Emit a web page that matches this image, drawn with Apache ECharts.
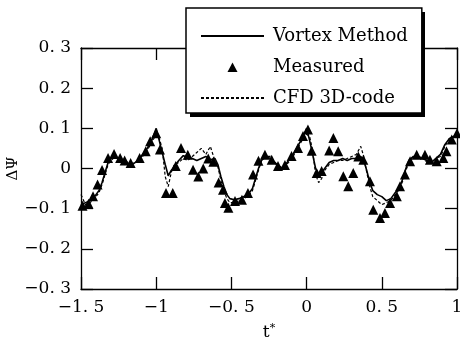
<!DOCTYPE html>
<html>
<head>
<meta charset="utf-8">
<script src="https://cdn.jsdelivr.net/npm/echarts@6/dist/echarts.min.js"></script>
<style>
  html, body { margin: 0; padding: 0; background: #fff; }
  #container { width: 460px; height: 348px; }
</style>
</head>
<body>
<div id="container"></div>
<script>
// time axis shared by the two computed curves
var tLine = [-1.5, -1.47, -1.44, -1.41, -1.38, -1.36, -1.34, -1.32, -1.30, -1.27,
    -1.24, -1.21, -1.18, -1.15, -1.12, -1.09, -1.06, -1.03, -1.00, -0.98,
    -0.96, -0.94, -0.92, -0.90, -0.88, -0.85, -0.82, -0.79, -0.76, -0.73,
    -0.70, -0.67, -0.64, -0.61, -0.59, -0.57, -0.55, -0.53, -0.51, -0.48,
    -0.45, -0.42, -0.39, -0.36, -0.34, -0.32, -0.30, -0.27, -0.24, -0.21,
    -0.18, -0.15, -0.12, -0.09, -0.06, -0.03, 0.0, 0.02, 0.04, 0.06,
    0.08, 0.10, 0.12, 0.15, 0.18, 0.21, 0.24, 0.27, 0.30, 0.33,
    0.36, 0.38, 0.40, 0.42, 0.44, 0.47, 0.50, 0.53, 0.56, 0.59,
    0.62, 0.64, 0.66, 0.68, 0.71, 0.74, 0.77, 0.80, 0.83, 0.86,
    0.89, 0.92, 0.95, 0.98, 1.0];

// Vortex Method (solid)
var vortexVal = [-0.09, -0.085, -0.08, -0.07, -0.055, -0.035, -0.01, 0.015, 0.025, 0.03,
    0.02, 0.022, 0.01, 0.012, 0.02, 0.035, 0.05, 0.07, 0.1, 0.07,
    0.04, 0.01, -0.018, -0.005, 0.005, 0.02, 0.032, 0.028, 0.025, 0.02,
    0.025, 0.03, 0.022, 0.025, 0.01, -0.02, -0.045, -0.065, -0.075, -0.078,
    -0.075, -0.07, -0.065, -0.05, -0.025, 0.0, 0.02, 0.03, 0.025, 0.015,
    0.0, 0.005, 0.02, 0.035, 0.055, 0.075, 0.1, 0.07, 0.035, 0.0,
    -0.015, -0.01, 0.0, 0.015, 0.02, 0.02, 0.025, 0.02, 0.025, 0.025,
    0.03, 0.02, -0.005, -0.035, -0.055, -0.065, -0.07, -0.08, -0.075, -0.06,
    -0.045, -0.025, 0.0, 0.02, 0.03, 0.03, 0.025, 0.02, 0.015, 0.025,
    0.035, 0.06, 0.075, 0.08, 0.09];

// CFD 3D-code (dashed)
var cfdVal = [-0.065, -0.09, -0.085, -0.075, -0.06, -0.04, -0.015, 0.01, 0.02, 0.03,
    0.02, 0.01, 0.005, 0.015, 0.015, 0.03, 0.045, 0.065, 0.085, 0.075,
    0.05, -0.02, -0.045, -0.01, 0.01, 0.015, 0.025, 0.02, 0.03, 0.04,
    0.05, 0.035, 0.055, 0.02, 0.005, -0.03, -0.055, -0.075, -0.085, -0.085,
    -0.08, -0.075, -0.07, -0.055, -0.03, -0.005, 0.02, 0.03, 0.03, 0.015,
    0.005, 0.005, 0.015, 0.03, 0.05, 0.07, 0.085, 0.08, 0.045, -0.015,
    -0.035, -0.025, -0.005, 0.01, 0.015, 0.02, 0.02, 0.025, 0.03, 0.035,
    0.055, 0.03, -0.01, -0.045, -0.07, -0.08, -0.09, -0.085, -0.08, -0.065,
    -0.05, -0.03, -0.005, 0.015, 0.03, 0.025, 0.03, 0.015, 0.015, 0.025,
    0.03, 0.055, 0.075, 0.08, 0.085];

// Measured (triangles)
var measuredT = [-1.49, -1.45, -1.42, -1.39, -1.36, -1.32, -1.28, -1.24, -1.21, -1.17,
    -1.11, -1.07, -1.04, -1.0, -0.975, -0.935, -0.89, -0.87, -0.835, -0.79,
    -0.755, -0.72, -0.687, -0.654, -0.62, -0.585, -0.556, -0.543, -0.52, -0.476,
    -0.43, -0.39, -0.356, -0.32, -0.277, -0.232, -0.19, -0.144, -0.1, -0.057,
    -0.024, 0.009, 0.034, 0.067, 0.1, 0.15, 0.178, 0.21, 0.244, 0.277,
    0.31, 0.344, 0.377, 0.421, 0.443, 0.488, 0.521, 0.555, 0.6, 0.621,
    0.654, 0.688, 0.732, 0.787, 0.82, 0.865, 0.909, 0.93, 0.965, 1.0];
var measuredVal = [-0.093, -0.088, -0.069, -0.04, -0.004, 0.026, 0.036, 0.026, 0.02, 0.014,
    0.026, 0.043, 0.068, 0.088, 0.047, -0.061, -0.061, 0.006, 0.051, 0.034,
    -0.003, -0.02, 0.0, 0.025, 0.017, -0.035, -0.053, -0.086, -0.098, -0.081,
    -0.078, -0.061, -0.015, 0.019, 0.034, 0.022, 0.006, 0.009, 0.031, 0.051,
    0.081, 0.097, 0.044, -0.011, -0.006, 0.045, 0.076, 0.043, -0.019, -0.044,
    -0.011, 0.03, 0.022, -0.032, -0.103, -0.123, -0.111, -0.086, -0.069, -0.044,
    -0.015, 0.018, 0.034, 0.034, 0.022, 0.018, 0.026, 0.043, 0.072, 0.088];

var xTicks = [-1.5, 1, 0.5];   // min, max, interval
var yTicks = [-0.3, 0.3, 0.1];

var seriesNames = ['Vortex Method', 'Measured', 'CFD 3D-code'];

function zip(a, b) {
    var out = [];
    for (var i = 0; i < a.length; i++) out.push([a[i], b[i]]);
    return out;
}

// labels like the original: "0. 3", "−1. 5"
function fmt(v) {
    var s = (Math.round(v * 10) / 10).toString();
    if (s === '-0') s = '0';
    s = s.replace('-', '\u2212');
    return s.replace('.', '. ');
}

var font = 'DejaVu Serif';
var ink = '#000';
var noMarker = { color: 'rgba(0,0,0,0)', borderWidth: 0 };
// small triangle in the middle of the 63x12 legend slot (corner moves keep the slot size)
var legendTriangle = 'path://M0,0M63,12M26.5,11L31.5,1.5L36.5,11Z';

// legend frame (box drawn by the legend, hard shadow drawn behind it)
var box = { left: 186, top: 8, width: 235, height: 105 };

var option = {
    animation: false,
    backgroundColor: '#fff',
    grid: { left: 81, right: 3, top: 48, bottom: 59, containLabel: false, outerBoundsMode: 'none' },
    graphic: [{
        type: 'rect',
        z: 0,
        shape: { x: box.left + 4, y: box.top + 4, width: box.width, height: box.height },
        style: { fill: ink }
    }],
    legend: {
        orient: 'vertical',
        left: box.left,
        top: box.top,
        padding: [19, 14, 6, 14],
        itemWidth: 63,
        itemHeight: 12,
        itemGap: 13,
        backgroundColor: '#fff',
        borderColor: ink,
        borderWidth: 1.5,
        borderRadius: 0,
        z: 10,
        textStyle: { fontFamily: font, fontSize: 18, lineHeight: 18, color: ink, padding: [0, 0, 0, 4] },
        data: [
            { name: seriesNames[0], itemStyle: noMarker },
            { name: seriesNames[1], icon: legendTriangle },
            { name: seriesNames[2], itemStyle: noMarker }
        ]
    },
    xAxis: [{
        type: 'value',
        min: xTicks[0], max: xTicks[1], interval: xTicks[2],
        position: 'bottom',
        name: 't{s|*}',
        nameLocation: 'middle',
        nameGap: 34,
        nameTextStyle: {
            fontFamily: font, fontSize: 17, color: ink,
            rich: { s: { fontFamily: font, fontSize: 11, color: ink, verticalAlign: 'top', padding: [0, 0, 8, 0] } }
        },
        axisLine: { show: true, onZero: false, lineStyle: { color: ink, width: 1.3 } },
        axisTick: { show: true, inside: true, length: 12, lineStyle: { color: ink, width: 1.3 } },
        axisLabel: { fontFamily: font, fontSize: 17, color: ink, margin: 10, formatter: fmt },
        splitLine: { show: false }
    }, {
        type: 'value',
        min: xTicks[0], max: xTicks[1], interval: xTicks[2],
        position: 'top',
        axisLine: { show: true, onZero: false, lineStyle: { color: ink, width: 1.3 } },
        axisTick: { show: true, inside: true, length: 12, lineStyle: { color: ink, width: 1.3 } },
        axisLabel: { show: false },
        splitLine: { show: false }
    }],
    yAxis: [{
        type: 'value',
        min: yTicks[0], max: yTicks[1], interval: yTicks[2],
        position: 'left',
        name: '\u0394\u03A8',
        nameLocation: 'middle',
        nameRotate: 90,
        nameGap: 60,
        nameMoveOverlap: false,
        nameTextStyle: { fontFamily: font, fontSize: 15, color: ink },
        axisLine: { show: true, onZero: false, lineStyle: { color: ink, width: 1.3 } },
        axisTick: { show: true, inside: true, length: 12, lineStyle: { color: ink, width: 1.3 } },
        axisLabel: { fontFamily: font, fontSize: 17, color: ink, margin: 10, formatter: fmt },
        splitLine: { show: false }
    }, {
        type: 'value',
        min: yTicks[0], max: yTicks[1], interval: yTicks[2],
        position: 'right',
        axisLine: { show: true, onZero: false, lineStyle: { color: ink, width: 1.3 } },
        axisTick: { show: true, inside: true, length: 12, lineStyle: { color: ink, width: 1.3 } },
        axisLabel: { show: false },
        splitLine: { show: false }
    }],
    series: [{
        name: seriesNames[0],
        type: 'line',
        symbol: 'none',
        lineStyle: { color: ink, width: 1.6 },
        itemStyle: { color: ink },
        data: zip(tLine, vortexVal)
    }, {
        name: seriesNames[1],
        type: 'scatter',
        symbol: 'triangle',
        symbolSize: 10,
        itemStyle: { color: ink, opacity: 1 },
        data: zip(measuredT, measuredVal)
    }, {
        name: seriesNames[2],
        type: 'line',
        symbol: 'none',
        lineStyle: { color: ink, width: 1.2, type: [3, 2] },
        itemStyle: { color: ink },
        data: zip(tLine, cfdVal)
    }]
};

echarts.init(document.getElementById('container')).setOption(option);
</script>
</body>
</html>
